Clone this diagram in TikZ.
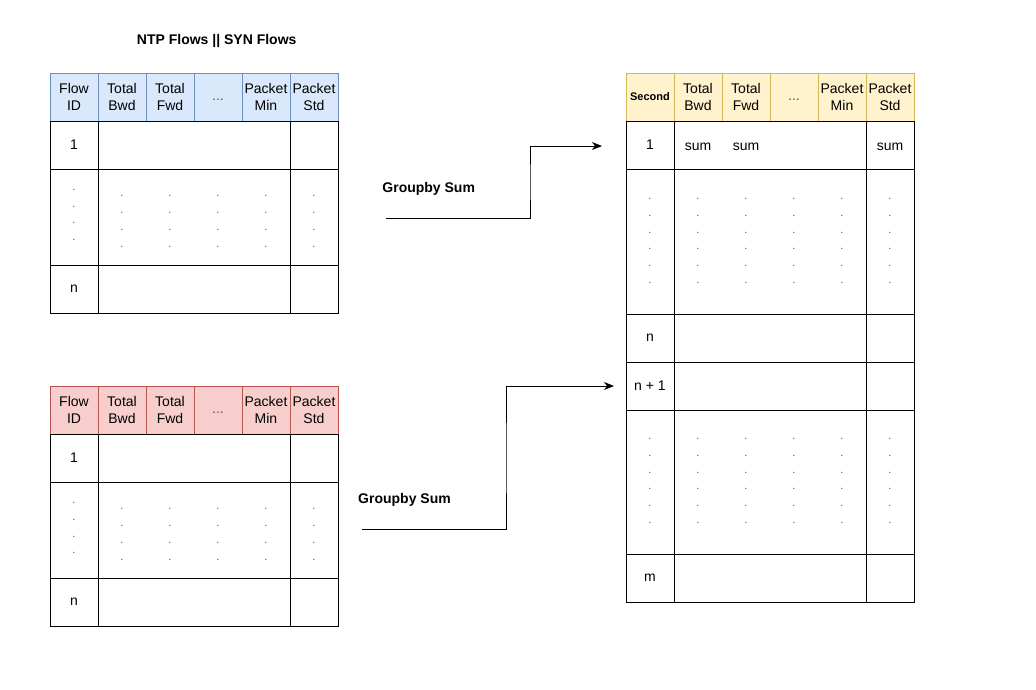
\documentclass[tikz,border=0pt]{standalone}
\usepackage{fontspec}
\setmainfont{Liberation Sans}
\usetikzlibrary{arrows.meta}
\definecolor{bfill}{HTML}{DAE8FC}\definecolor{bdraw}{HTML}{6C8EBF}
\definecolor{rfill}{HTML}{F8CECC}\definecolor{rdraw}{HTML}{B85450}
\definecolor{yfill}{HTML}{FFF2CC}\definecolor{ydraw}{HTML}{D6B656}
\definecolor{dotgray}{HTML}{555555}
\begin{document}
\begin{tikzpicture}[x=1pt,y=-1pt,
  every node/.style={inner sep=0pt, outer sep=0pt, align=center, font=\fontsize{14}{16.8}\selectfont},
  hdrcell/.style={rectangle, line width=1pt, minimum width=48pt, minimum height=48pt, anchor=north west},
  hb/.style={hdrcell, draw=bdraw, fill=bfill},
  hr/.style={hdrcell, draw=rdraw, fill=rfill},
  hy/.style={hdrcell, draw=ydraw, fill=yfill},
  cellbox/.style={rectangle, draw=black, line width=1pt, anchor=north west},
  dotmark/.style={text=dotgray, font=\fontsize{11}{13.2}\selectfont},
  ell/.style={text=dotgray},
  lbl/.style={font=\bfseries\fontsize{14}{16.8}\selectfont},
  flow/.style={draw=black, line width=1pt, -{Stealth[length=10pt,width=8pt,inset=3pt]}}
]
\useasboundingbox[fill=white] (0,0) rectangle (1036,689);

% title
\node[lbl] (title) at (216.7,40.5) {NTP Flows || SYN Flows};

% ===== top-left table =====
\node[hb] (aH1) at (50,73) {Flow\\ID};
\node[hb] (aH2) at (98,73) {Total\\Bwd};
\node[hb] (aH3) at (146,73) {Total\\Fwd};
\node[hb, ell] (aH4) at (194,73) {\strut...};
\node[hb] (aH5) at (242,73) {Packet\\Min};
\node[hb] (aH6) at (290,73) {Packet\\Std};
\node[cellbox, minimum width=48pt, minimum height=48pt] (aR1a) at (50,121) {1};
\node[cellbox, minimum width=192pt, minimum height=48pt] (aR1b) at (98,121) {};
\node[cellbox, minimum width=48pt, minimum height=48pt] (aR1c) at (290,121) {};
\node[cellbox, minimum width=48pt, minimum height=96pt] (aR2a) at (50,169) {};
\node[cellbox, minimum width=192pt, minimum height=96pt] (aR2b) at (98,169) {};
\node[cellbox, minimum width=48pt, minimum height=96pt] (aR2c) at (290,169) {};
\node[cellbox, minimum width=48pt, minimum height=48pt] (aR3a) at (50,265) {n};
\node[cellbox, minimum width=192pt, minimum height=48pt] (aR3b) at (98,265) {};
\node[cellbox, minimum width=48pt, minimum height=48pt] (aR3c) at (290,265) {};
\foreach \y [count=\k] in {190,206.7,223.3,240} \node[dotmark] (aD0-\k) at (74,\y) {.};
\foreach \x [count=\i] in {122,170,218,266,314}
  \foreach \y [count=\k] in {196,213,230,247} \node[dotmark] (aD\i-\k) at (\x,\y) {.};

% ===== bottom-left table =====
\node[hr] (bH1) at (50,386) {Flow\\ID};
\node[hr] (bH2) at (98,386) {Total\\Bwd};
\node[hr] (bH3) at (146,386) {Total\\Fwd};
\node[hr, ell] (bH4) at (194,386) {\strut...};
\node[hr] (bH5) at (242,386) {Packet\\Min};
\node[hr] (bH6) at (290,386) {Packet\\Std};
\node[cellbox, minimum width=48pt, minimum height=48pt] (bR1a) at (50,434) {1};
\node[cellbox, minimum width=192pt, minimum height=48pt] (bR1b) at (98,434) {};
\node[cellbox, minimum width=48pt, minimum height=48pt] (bR1c) at (290,434) {};
\node[cellbox, minimum width=48pt, minimum height=96pt] (bR2a) at (50,482) {};
\node[cellbox, minimum width=192pt, minimum height=96pt] (bR2b) at (98,482) {};
\node[cellbox, minimum width=48pt, minimum height=96pt] (bR2c) at (290,482) {};
\node[cellbox, minimum width=48pt, minimum height=48pt] (bR3a) at (50,578) {n};
\node[cellbox, minimum width=192pt, minimum height=48pt] (bR3b) at (98,578) {};
\node[cellbox, minimum width=48pt, minimum height=48pt] (bR3c) at (290,578) {};
\foreach \y [count=\k] in {502.7,520,536.7,553.3} \node[dotmark] (bD0-\k) at (74,\y) {.};
\foreach \x [count=\i] in {122,170,218,266,314}
  \foreach \y [count=\k] in {509.3,526,543,560} \node[dotmark] (bD\i-\k) at (\x,\y) {.};

% ===== right table =====
\node[hy, font=\bfseries\fontsize{11}{13.2}\selectfont] (cH1) at (626,73) {Second};
\node[hy] (cH2) at (674,73) {Total\\Bwd};
\node[hy] (cH3) at (722,73) {Total\\Fwd};
\node[hy, ell] (cH4) at (770,73) {\strut...};
\node[hy] (cH5) at (818,73) {Packet\\Min};
\node[hy] (cH6) at (866,73) {Packet\\Std};
\node[cellbox, minimum width=48pt, minimum height=48pt] (cR1a) at (626,121) {1};
\node[cellbox, minimum width=192pt, minimum height=48pt] (cR1b) at (674,121) {};
\node[cellbox, minimum width=48pt, minimum height=48pt] (cR1c) at (866,121) {};
\node[cellbox, minimum width=48pt, minimum height=145pt] (cR2a) at (626,169) {};
\node[cellbox, minimum width=192pt, minimum height=145pt] (cR2b) at (674,169) {};
\node[cellbox, minimum width=48pt, minimum height=145pt] (cR2c) at (866,169) {};
\node[cellbox, minimum width=48pt, minimum height=48pt] (cR3a) at (626,314) {n};
\node[cellbox, minimum width=192pt, minimum height=48pt] (cR3b) at (674,314) {};
\node[cellbox, minimum width=48pt, minimum height=48pt] (cR3c) at (866,314) {};
\node[cellbox, minimum width=48pt, minimum height=48pt] (cR4a) at (626,362) {n + 1};
\node[cellbox, minimum width=192pt, minimum height=48pt] (cR4b) at (674,362) {};
\node[cellbox, minimum width=48pt, minimum height=48pt] (cR4c) at (866,362) {};
\node[cellbox, minimum width=48pt, minimum height=144pt] (cR5a) at (626,410) {};
\node[cellbox, minimum width=192pt, minimum height=144pt] (cR5b) at (674,410) {};
\node[cellbox, minimum width=48pt, minimum height=144pt] (cR5c) at (866,410) {};
\node[cellbox, minimum width=48pt, minimum height=48pt] (cR6a) at (626,554) {m};
\node[cellbox, minimum width=192pt, minimum height=48pt] (cR6b) at (674,554) {};
\node[cellbox, minimum width=48pt, minimum height=48pt] (cR6c) at (866,554) {};
\node (sum1) at (698,146.5) {sum};
\node (sum2) at (746,146.5) {sum};
\node (sum3) at (890,146.5) {sum};
\foreach \x [count=\i] in {650,698,746,794,842,890} {
  \foreach \y [count=\k] in {199.3,216,232.7,249.3,266,282.7} \node[dotmark] (cD\i-\k) at (\x,\y) {.};
  \foreach \y [count=\k] in {439.3,456,472.7,489.3,506,522.7} \node[dotmark] (cE\i-\k) at (\x,\y) {.};
}

% ===== connectors =====
\coordinate (s1) at (386,218);
\coordinate (k1) at (530,182);
\coordinate (e1) at (602,146);
\draw[flow] (s1) -| (k1) |- (e1);
\coordinate (s2) at (362,529);
\coordinate (k2) at (506,458);
\coordinate (e2) at (614,386);
\draw[flow] (s2) -| (k2) |- (e2);

\node[lbl] (g1) at (428.7,189) {Groupby Sum};
\node[lbl] (g2) at (404.5,500) {Groupby Sum};
\end{tikzpicture}
\end{document}
